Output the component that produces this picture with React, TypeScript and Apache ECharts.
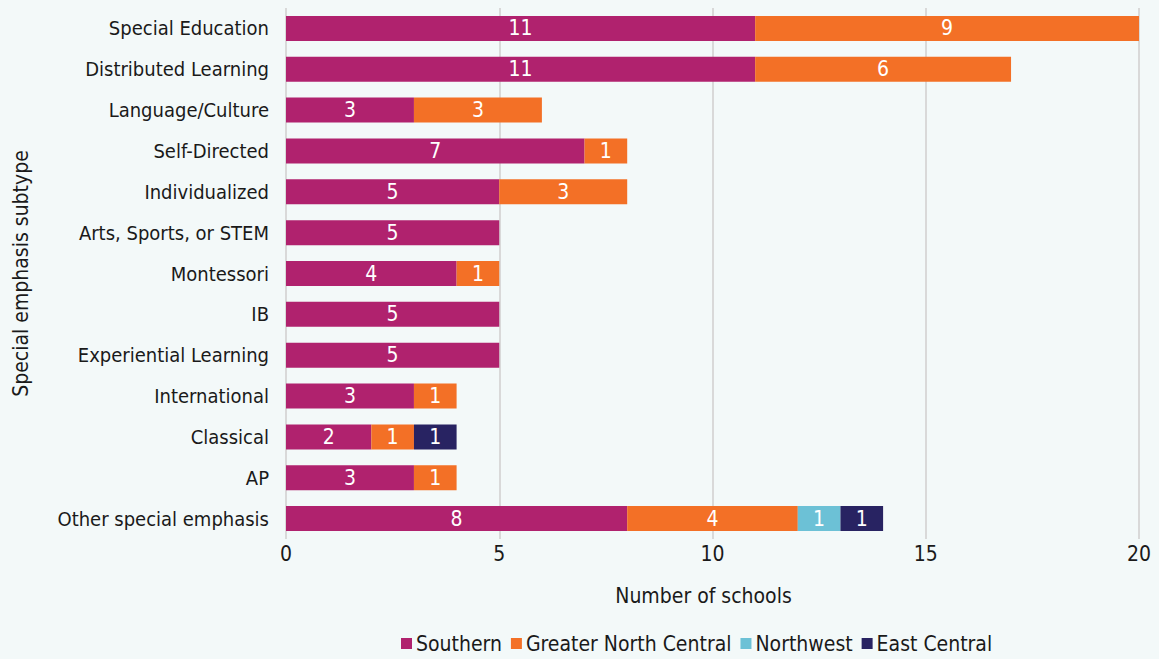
import React, { useEffect, useRef } from "react";
import * as echarts from "echarts";

const categories = [
  "Special Education",
  "Distributed Learning",
  "Language/Culture",
  "Self-Directed",
  "Individualized",
  "Arts, Sports, or STEM",
  "Montessori",
  "IB",
  "Experiential Learning",
  "International",
  "Classical",
  "AP",
  "Other special emphasis",
];
const southern = [11, 11, 3, 7, 5, 5, 4, 5, 5, 3, 2, 3, 8];
const greaterNorthCentral = [9, 6, 3, 1, 3, 0, 1, 0, 0, 1, 1, 1, 4];
const northwest = [0, 0, 0, 0, 0, 0, 0, 0, 0, 0, 0, 0, 1];
const eastCentral = [0, 0, 0, 0, 0, 0, 0, 0, 0, 0, 1, 0, 1];
const xTicks = [0, 5, 10, 15, 20];

const FONT = "'DejaVu Sans Condensed', sans-serif";

const seriesDefs = [
  { name: "Southern", data: southern, color: "#b0226e" },
  { name: "Greater North Central", data: greaterNorthCentral, color: "#f37026" },
  { name: "Northwest", data: northwest, color: "#6cc1d6" },
  { name: "East Central", data: eastCentral, color: "#282362" },
];

export default function App() {
  const ref = useRef<HTMLDivElement>(null);
  useEffect(() => {
    if (!ref.current) return;
    const chart = echarts.init(ref.current, undefined, { renderer: "svg" });
    chart.setOption({
      animation: false,
      backgroundColor: "#f3f9f9",
      textStyle: { fontFamily: FONT },
      grid: { left: 286, right: 20, top: 8, bottom: 120, containLabel: false },
      legend: {
        bottom: 0,
        left: 396,
        itemWidth: 11,
        itemHeight: 11,
        itemGap: 9,
        icon: "rect",
        textStyle: { fontFamily: FONT, fontSize: 21, color: "#1a1a1a", padding: [0, 0, 0, -1] },
        data: seriesDefs.map((s) => s.name),
      },
      xAxis: {
        type: "value",
        min: xTicks[0],
        max: xTicks[xTicks.length - 1],
        interval: 5,
        name: "Number of schools",
        nameLocation: "middle",
        nameGap: 46,
        nameTextStyle: { fontFamily: FONT, fontSize: 21, color: "#1a1a1a", padding: [0, 18, 0, 0] },
        axisLabel: { fontFamily: FONT, fontSize: 21, color: "#1a1a1a", margin: 4 },
        axisLine: { show: false },
        axisTick: { show: false },
        splitLine: { show: true, lineStyle: { color: "#d9d9d9", width: 2 } },
      },
      yAxis: {
        type: "category",
        inverse: true,
        data: categories,
        name: "Special emphasis subtype",
        nameLocation: "middle",
        nameGap: 255,
        nameRotate: 90,
        nameTextStyle: { fontFamily: FONT, fontSize: 21, color: "#1a1a1a" },
        axisLabel: { fontFamily: FONT, fontSize: 20, color: "#1a1a1a", margin: 17 },
        axisLine: { show: false },
        axisTick: { show: false },
      },
      series: seriesDefs.map((s) => ({
        name: s.name,
        type: "bar",
        stack: "total",
        barWidth: 25,
        itemStyle: { color: s.color },
        label: {
          show: true,
          position: "inside",
          color: "#ffffff",
          fontFamily: FONT,
          fontSize: 21,
          formatter: (p: any) => (p.value ? String(p.value) : ""),
        },
        data: s.data.map((v) => (v === 0 ? null : v)),
      })),
    });
    return () => chart.dispose();
  }, []);
  return <div ref={ref} style={{ width: 1159, height: 659, position: "absolute", left: 0, top: 0 }} />;
}
